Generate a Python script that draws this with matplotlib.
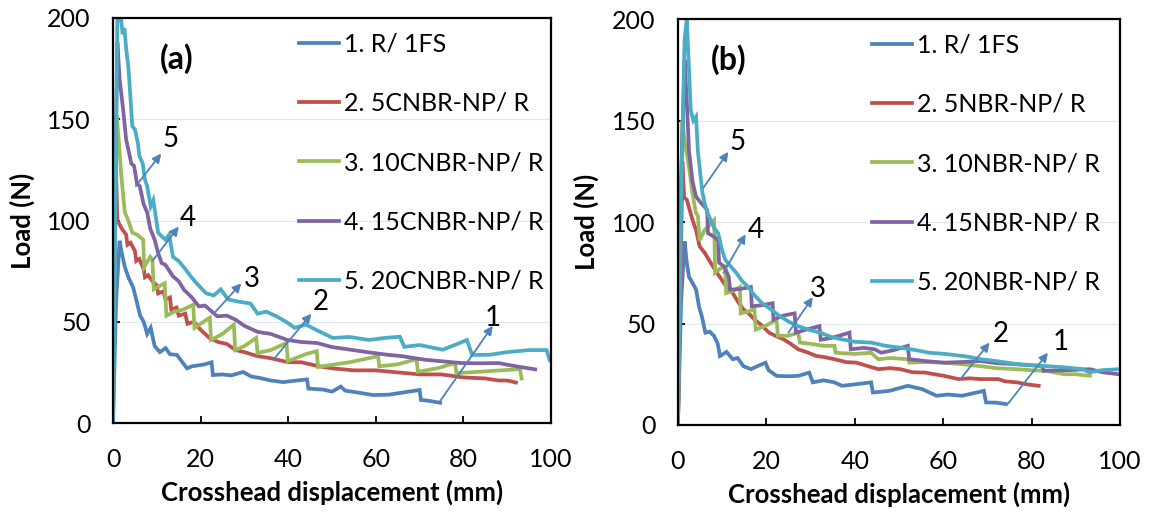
import matplotlib
matplotlib.use("Agg")
import matplotlib.pyplot as plt

plt.rcParams['font.family'] = ['Lato', 'DejaVu Sans']

# ---- panel (a) data: crosshead displacement (mm) / load (N) ----
a1_x = [0, 0.7, 1.5, 2.0, 2.7, 3.5, 4.6, 5.4, 6.2, 7.0, 7.8, 8.6, 9.5, 10.7, 12, 13, 14.6, 15.5, 16.9, 18, 19.9, 21, 22.5, 22.8, 25, 27, 29.7, 31.5, 33.6, 36, 38.8, 42, 44.3, 44.6, 48, 50, 52, 53, 56, 59.4, 63, 66, 70, 70.3, 72, 74.7]
a1_y = [0, 60, 90, 84, 77, 72, 67, 60, 53, 50, 44, 47, 38, 35, 37, 34, 33.6, 31, 27, 28, 28.6, 29, 30, 23.7, 24, 23.5, 25.2, 23, 22.2, 21, 20.2, 21, 21.5, 17, 16.5, 15.5, 18, 16, 15, 13.8, 14, 15, 16.3, 11.4, 11, 10]

a2_x = [0, 0.3, 0.6, 1.0, 1.5, 2, 3, 3.3, 4, 5, 5.3, 6, 7, 7.3, 8, 9, 10, 10.3, 11.5, 12, 13, 13.3, 14.5, 15, 16.5, 17, 18.5, 20, 22, 24, 26, 28, 30, 33, 36, 40, 43, 47, 50, 55, 60, 65, 70, 75, 80, 85, 88, 90, 92]
a2_y = [0, 80, 132, 100, 98, 96, 93, 88, 89, 85, 80, 81, 76, 72, 73, 70, 68, 64, 65, 61, 62, 56, 57, 53, 54, 49, 50, 46, 42, 40, 39, 36, 35, 33, 32, 30, 30, 28, 27, 26, 26, 25, 24, 24, 22.5, 22, 21, 21, 20]

a3_x = [0, 0.5, 0.8, 1.3, 1.9, 2.7, 3.5, 4.4, 5.5, 6.9, 7.1, 8.5, 9.0, 9.3, 11.8, 12.2, 14, 16, 18.3, 18.6, 20, 22.1, 22.4, 25, 27.6, 27.9, 30, 32.7, 33, 36, 39.6, 39.9, 44, 46.5, 46.8, 54, 60.5, 60.8, 65, 69.3, 69.6, 74, 78.1, 78.4, 85, 92.9, 93.3]
a3_y = [0, 110, 152, 140, 122, 104, 100, 94, 93, 90.5, 77, 82, 80.6, 66, 69, 53, 55, 56, 58.4, 47, 49, 52, 41, 44, 48.6, 36, 38, 42, 34.6, 36, 39.5, 30.5, 34, 35.5, 27.7, 30, 33, 28, 29, 31.5, 25.3, 27, 29.6, 24.6, 25.5, 26.6, 22]

a4_x = [0, 0.5, 1.0, 1.5, 2.3, 3.0, 3.5, 4.2, 4.8, 5.5, 6.1, 7.0, 7.8, 8.5, 9.5, 10.3, 11.1, 12, 13.7, 15, 16.2, 18, 19.6, 21, 23.8, 26, 28, 30, 33, 36, 39.8, 43, 46.6, 50, 54.2, 58, 62.6, 66, 71, 75, 79.5, 84, 88, 92, 96.4]
a4_y = [0, 120, 188, 170, 155, 140, 135, 128, 127, 118, 117, 108, 104, 96, 90.5, 84, 79, 78, 72.4, 70, 65.8, 62, 57.6, 58, 52.7, 53, 51, 48, 45, 44, 41, 40, 39.5, 37.5, 36.2, 35, 33.7, 33, 31.3, 30.5, 29.6, 29.5, 29.6, 28, 26.5]

a5_x = [0, 0.5, 1.0, 1.8, 2.2, 2.6, 3.0, 3.5, 4.0, 4.4, 5.0, 5.7, 6.0, 6.8, 7.3, 7.8, 8.6, 9.2, 10.3, 11.2, 12, 12.8, 13.7, 15, 16.5, 17.9, 19.5, 21.3, 23, 24.6, 26.3, 28.5, 31.4, 33, 35, 37.3, 39.5, 41.5, 44, 47.3, 50.2, 54, 58.4, 62, 65.5, 66.5, 70, 75.3, 78, 80.8, 82, 86, 90, 95, 99, 99.7]
a5_y = [0, 100, 200, 200, 192, 195, 185, 176, 160, 146.5, 145, 138, 132, 128, 120, 117, 107, 110, 94, 92, 90.5, 93, 82, 80, 76, 72, 68, 64, 63, 66, 61, 60, 59, 54, 55, 52.7, 50, 47, 48.6, 45, 42, 42.5, 41, 42, 42.6, 37.6, 38.5, 36.2, 38.5, 41, 33.6, 33.7, 35, 36, 36, 31]

# ---- panel (b) data ----
b1_x = [0, 0.7, 1.5, 2.0, 2.5, 3.3, 4.1, 4.8, 5.4, 6.2, 7.2, 8.2, 9.0, 9.5, 11, 12.4, 13.5, 14.8, 16.5, 18, 19.8, 20.5, 22.3, 25, 27.2, 29.7, 30.5, 33, 35.4, 37.1, 40, 43.7, 44.1, 47.8, 52, 55.2, 58.5, 61, 64.3, 69.2, 69.7, 72, 74.2]
b1_y = [0, 60, 90.4, 80, 73, 70, 66.7, 58, 53.6, 45.5, 46, 43.8, 40, 34, 36, 32.4, 33, 29, 27.5, 29, 30.7, 27, 24.2, 24, 24.2, 25.8, 21, 22, 21, 19.3, 20, 21, 16, 16.8, 19.3, 17.7, 14.4, 15, 14.4, 16.8, 11.1, 11, 10.3]

b2_x = [0, 0.6, 1.0, 1.4, 2.0, 3.3, 4.1, 4.9, 6.0, 7.4, 8.5, 9.9, 11, 12.4, 13.5, 14.8, 16, 17.3, 19, 20.6, 22, 23.9, 25.5, 27.2, 29, 31.3, 33, 35.4, 38, 40.4, 43, 45.3, 48, 50.3, 53, 56, 58, 60.2, 63.5, 66, 68.4, 72.5, 74, 76.7, 79, 81.6]
b2_y = [0, 70, 130, 112, 111, 101, 96, 88, 85, 80, 76, 71.6, 68, 65, 61, 57, 55, 52, 49, 45.5, 44, 42.2, 40, 37.3, 36, 34, 33.5, 32.4, 31, 30.7, 29, 27.5, 28, 27.5, 26, 25.8, 25, 24.2, 22.6, 23, 22.6, 22.6, 21.5, 21, 20, 19.3]

b3_x = [0, 0.5, 1.0, 1.5, 2.5, 3.3, 4.0, 4.5, 4.9, 6, 8.2, 8.4, 9.5, 10.7, 10.9, 12.5, 14, 14.2, 16, 17.3, 17.6, 20, 22.3, 22.6, 25, 27.2, 27.6, 30, 33, 35.4, 35.7, 40, 43.7, 45.3, 48, 52, 52.4, 56, 60.2, 64, 68.4, 72, 76.7, 80, 83.3, 87.4, 90, 93.2]
b3_y = [0, 90, 150, 140, 127, 114, 105, 103, 91, 96, 101, 75, 77, 78, 65, 66, 68, 55, 56, 57, 47, 49, 52, 44, 44, 45.5, 40.6, 40, 39, 39, 35.6, 35, 35.6, 32.4, 33, 32.4, 30.7, 31, 30.7, 30, 29, 28, 27.5, 27, 26.7, 25, 25, 24.2]

b4_x = [0, 0.6, 1.5, 2.0, 2.5, 3.3, 4.1, 5.0, 6.6, 6.8, 8, 9.1, 9.3, 10.5, 11.5, 11.8, 14, 16.5, 16.7, 19, 21.4, 21.6, 24, 26.4, 26.7, 29, 32, 32.3, 35, 38.8, 39.1, 42, 44.5, 46, 49, 52, 52.3, 56, 60.2, 64, 68.4, 72, 76, 82.4, 82.7, 88, 93.2, 96, 99.7]
b4_y = [0, 110, 180, 160, 135, 120, 112.5, 110, 106, 94.5, 93, 91, 80, 78, 73, 66.7, 67, 68, 58.5, 59, 60, 52, 54, 55, 45.5, 47, 48.7, 42, 43, 45.5, 37.3, 38, 37.3, 35.6, 37, 39, 32.4, 31.5, 30.7, 31, 31.5, 30.5, 30, 29, 26.7, 27, 27.5, 26, 25]

b5_x = [0, 0.8, 1.5, 2.0, 2.4, 2.9, 3.5, 4.1, 4.5, 4.9, 5.5, 6.2, 6.8, 7.4, 8.2, 9.1, 10, 10.7, 12, 13.2, 14.5, 15.7, 17.3, 19, 21, 23.1, 25, 27.2, 29.5, 32.2, 34.5, 37.1, 40, 43.7, 47, 50.3, 53.5, 56.9, 60.5, 64.3, 66, 68.4, 72, 76.7, 80, 83.3, 87, 91.5, 93, 96, 99.7]
b5_y = [0, 120, 190, 200, 180, 155, 150, 152, 135, 127, 115, 107.6, 104, 101, 97, 94.5, 86, 81.4, 78, 75, 71, 68.4, 64, 60, 57, 53.6, 51, 48.7, 47, 45.5, 43.5, 42.2, 41, 40.6, 39, 38.1, 37, 35.6, 35, 34, 33.5, 32.4, 31.5, 30, 29.5, 29, 28.5, 27.5, 26, 27, 27.5]

a_labels = ['1. R/ 1FS', '2. 5CNBR-NP/ R', '3. 10CNBR-NP/ R', '4. 15CNBR-NP/ R', '5. 20CNBR-NP/ R']
b_labels = ['1. R/ 1FS', '2. 5NBR-NP/ R', '3. 10NBR-NP/ R', '4. 15NBR-NP/ R', '5. 20NBR-NP/ R']
colors = ['#4F81BD', '#C0504D', '#9BBB59', '#8064A2', '#4BACC6']

# annotation: (text, text pos, arrow tail, arrow head)
a_notes = [('5', (13.2, 140), (5.2, 117), (11.0, 133)),
           ('4', (17.0, 101), (9.0, 80), (15.0, 97)),
           ('3', (31.8, 71), (23.0, 54), (29.3, 69)),
           ('2', (47.4, 60), (36.9, 32), (45.3, 54)),
           ('1', (86.7, 52), (74.4, 10), (86.7, 48))]
b_notes = [('5', (13.4, 139.5), (5.8, 117), (11.4, 134.6)),
           ('4', (17.7, 96), (10.3, 75), (15.3, 94)),
           ('3', (31.7, 67), (25.0, 45.5), (30.5, 63)),
           ('2', (73.0, 44.6), (63.9, 22.6), (70.5, 40.6)),
           ('1', (86.6, 41), (74.6, 10.3), (83.7, 35.6))]


def draw_panel(ax, xs, ys, labels, notes, tag, tag_x, leg_x):
    for x, y, lab, c in zip(xs, ys, labels, colors):
        ax.plot(x, y, color=c, lw=2.7, label=lab, solid_joinstyle='miter')
    ax.set_xlim(0, 100)
    ax.set_ylim(0, 200)
    ax.set_xticks([0, 20, 40, 60, 80, 100])
    ax.set_yticks([0, 50, 100, 150, 200])
    for yv in [50, 100, 150]:
        ax.axhline(yv, color='#dde8f3', lw=0.9, zorder=0)
    for s in ax.spines.values():
        s.set_linewidth(1.6)
    ax.tick_params(direction='in', length=5, width=1.3, labelsize=18, colors='black')
    ax.tick_params(axis='x', pad=18)
    ax.tick_params(axis='y', pad=16)
    ax.set_xlabel('Crosshead displacement (mm)', fontsize=18.5, fontweight='bold')
    ax.set_ylabel('Load (N)', fontsize=18.5, fontweight='bold')
    ax.xaxis.set_label_coords(0.5, -0.14)
    ax.yaxis.set_label_coords(-0.178, 0.5)
    ax.text(tag_x, 180, tag, fontsize=23, fontweight='bold', ha='center', va='center')
    for t, tp, tail, head in notes:
        ax.annotate('', xy=head, xytext=tail,
                    arrowprops=dict(arrowstyle='-|>', color='#4F81BD', lw=1.3,
                                    mutation_scale=13, shrinkA=0, shrinkB=0))
        ax.text(tp[0], tp[1], t, fontsize=20, ha='center', va='center')
    ax.legend(loc='upper left', bbox_to_anchor=(leg_x, 0.964), frameon=False,
              fontsize=18, handlelength=1.6, handletextpad=0.2, labelspacing=1.45,
              borderpad=0, borderaxespad=0)


fig = plt.figure(figsize=(11.52, 5.17), dpi=100)
ax_a = fig.add_axes([0.0981, 0.1818, 0.3802, 0.7834])
ax_b = fig.add_axes([0.5885, 0.178, 0.3837, 0.785])

draw_panel(ax_a, [a1_x, a2_x, a3_x, a4_x, a5_x], [a1_y, a2_y, a3_y, a4_y, a5_y],
           a_labels, a_notes, '(a)', 14.5, 0.424)
draw_panel(ax_b, [b1_x, b2_x, b3_x, b4_x, b5_x], [b1_y, b2_y, b3_y, b4_y, b5_y],
           b_labels, b_notes, '(b)', 11.5, 0.44)

fig.savefig('out.png', dpi=100)
